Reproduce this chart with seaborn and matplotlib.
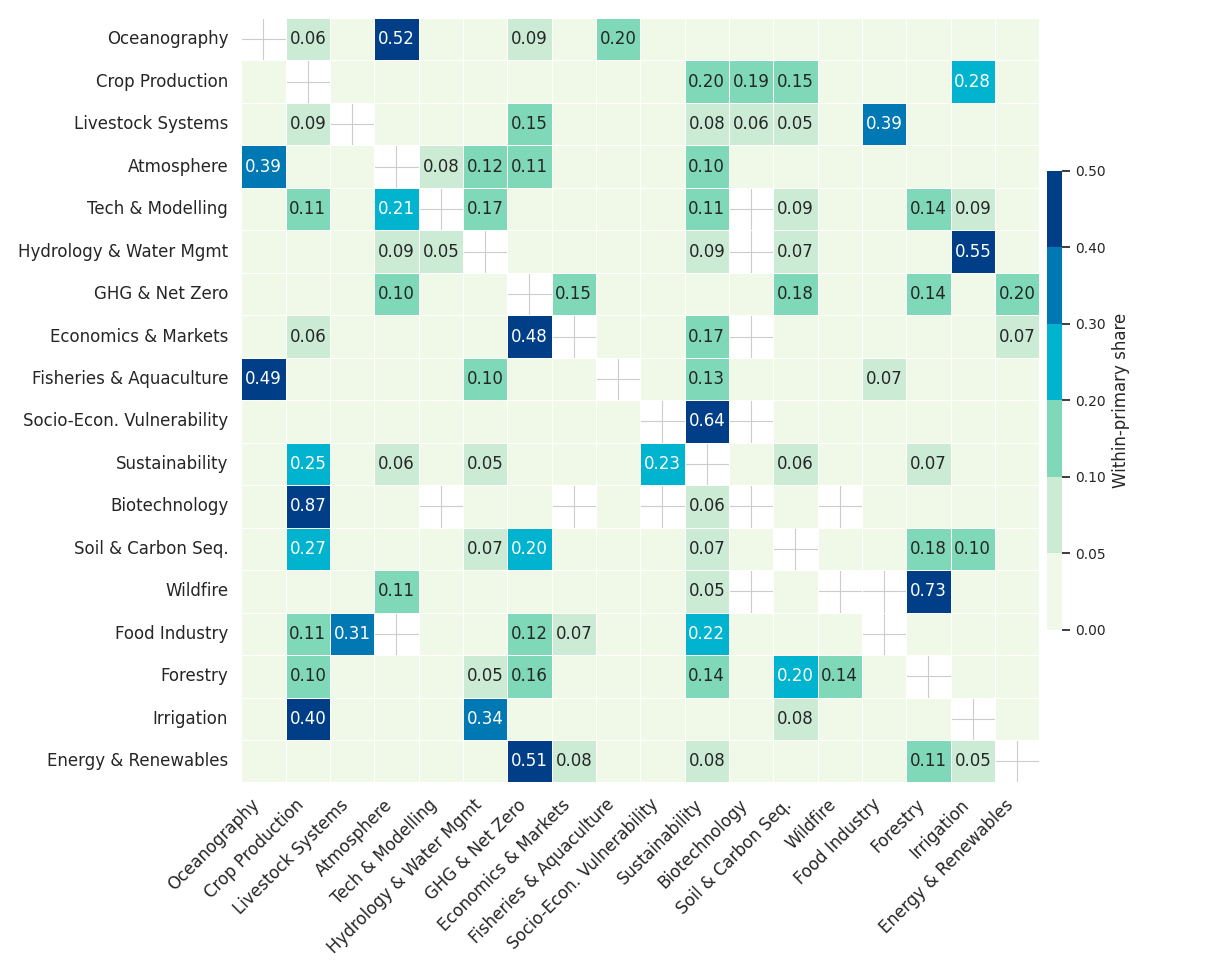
import numpy as np
import matplotlib
matplotlib.use("Agg")
import matplotlib.pyplot as plt
from matplotlib.colors import ListedColormap, BoundaryNorm
import seaborn as sns

topics = ["Oceanography", "Crop Production", "Livestock Systems", "Atmosphere", "Tech & Modelling",
          "Hydrology & Water Mgmt", "GHG & Net Zero", "Economics & Markets", "Fisheries & Aquaculture",
          "Socio-Econ. Vulnerability", "Sustainability", "Biotechnology", "Soil & Carbon Seq.",
          "Wildfire", "Food Industry", "Forestry", "Irrigation", "Energy & Renewables"]

# labelled shares per row: {column index: share}; unlabelled cells are small (<0.05)
shares = [
    {1: 0.06, 3: 0.52, 6: 0.09, 8: 0.198},
    {10: 0.198, 11: 0.19, 12: 0.15, 16: 0.28},
    {1: 0.09, 6: 0.15, 10: 0.08, 11: 0.06, 12: 0.05, 14: 0.39},
    {0: 0.39, 4: 0.08, 5: 0.12, 6: 0.11, 10: 0.10},
    {1: 0.11, 3: 0.21, 5: 0.17, 10: 0.11, 12: 0.09, 15: 0.14, 16: 0.09},
    {3: 0.09, 4: 0.05, 10: 0.09, 12: 0.07, 16: 0.55},
    {3: 0.10, 7: 0.15, 12: 0.18, 15: 0.14, 17: 0.198},
    {1: 0.06, 6: 0.48, 10: 0.17, 17: 0.07},
    {0: 0.49, 5: 0.10, 10: 0.13, 14: 0.07},
    {10: 0.64},
    {1: 0.25, 3: 0.06, 5: 0.05, 9: 0.23, 12: 0.06, 15: 0.07},
    {1: 0.87, 10: 0.06},
    {1: 0.27, 5: 0.07, 6: 0.20, 10: 0.07, 15: 0.18, 16: 0.10},
    {3: 0.11, 10: 0.05, 15: 0.73},
    {1: 0.11, 2: 0.31, 6: 0.12, 7: 0.07, 10: 0.22},
    {1: 0.10, 5: 0.05, 6: 0.16, 10: 0.14, 12: 0.20, 13: 0.14},
    {1: 0.40, 5: 0.34, 12: 0.08},
    {6: 0.51, 7: 0.08, 10: 0.08, 15: 0.11, 16: 0.05},
]
# cells with no data besides the diagonal
missing = [(4, 11), (5, 11), (7, 11), (9, 11), (11, 4), (11, 7), (11, 9), (11, 13),
           (13, 11), (13, 14), (14, 3)]
small_share = 0.01

bounds = [0, 0.05, 0.10, 0.20, 0.30, 0.40, 0.50]
colors = ["#f0f9e8", "#ccebd5", "#7fd9b9", "#00b4d0", "#0078b4", "#003f87"]

n = len(topics)
mat = np.full((n, n), small_share)
for i, row in enumerate(shares):
    for j, v in row.items():
        mat[i, j] = v
mask = np.eye(n, dtype=bool)
for i, j in missing:
    mask[i, j] = True
annot = np.where((mat >= 0.05) & ~mask, np.vectorize(lambda v: f"{v:.2f}")(mat), "")

sns.set_theme(style="whitegrid")
cmap = ListedColormap(colors)
norm = BoundaryNorm(bounds, cmap.N)

fig, ax = plt.subplots(figsize=(12.07, 9.75), dpi=100)
sns.heatmap(mat, mask=mask, cmap=cmap, norm=norm, annot=annot, fmt="", ax=ax,
            linewidths=0.5, linecolor="white", xticklabels=topics, yticklabels=topics,
            annot_kws={"size": 12},
            cbar_kws={"shrink": 0.6, "ticks": bounds, "label": "Within-primary share",
                      "pad": 0.008, "aspect": 30})
ax.set_axisbelow(True)
ax.grid(True, color="#cccccc", linewidth=0.8)
ax.set_xticklabels(topics, rotation=45, ha="right", fontsize=12)
ax.set_yticklabels(topics, rotation=0, fontsize=12)
cbar = ax.collections[0].colorbar
cbar.set_ticklabels([f"{b:.2f}" for b in bounds])
cbar.ax.tick_params(labelsize=10)
cbar.set_label("Within-primary share", fontsize=12)
cbar.outline.set_edgecolor("#cccccc")
plt.tight_layout()
plt.savefig("out.png", dpi=100)
